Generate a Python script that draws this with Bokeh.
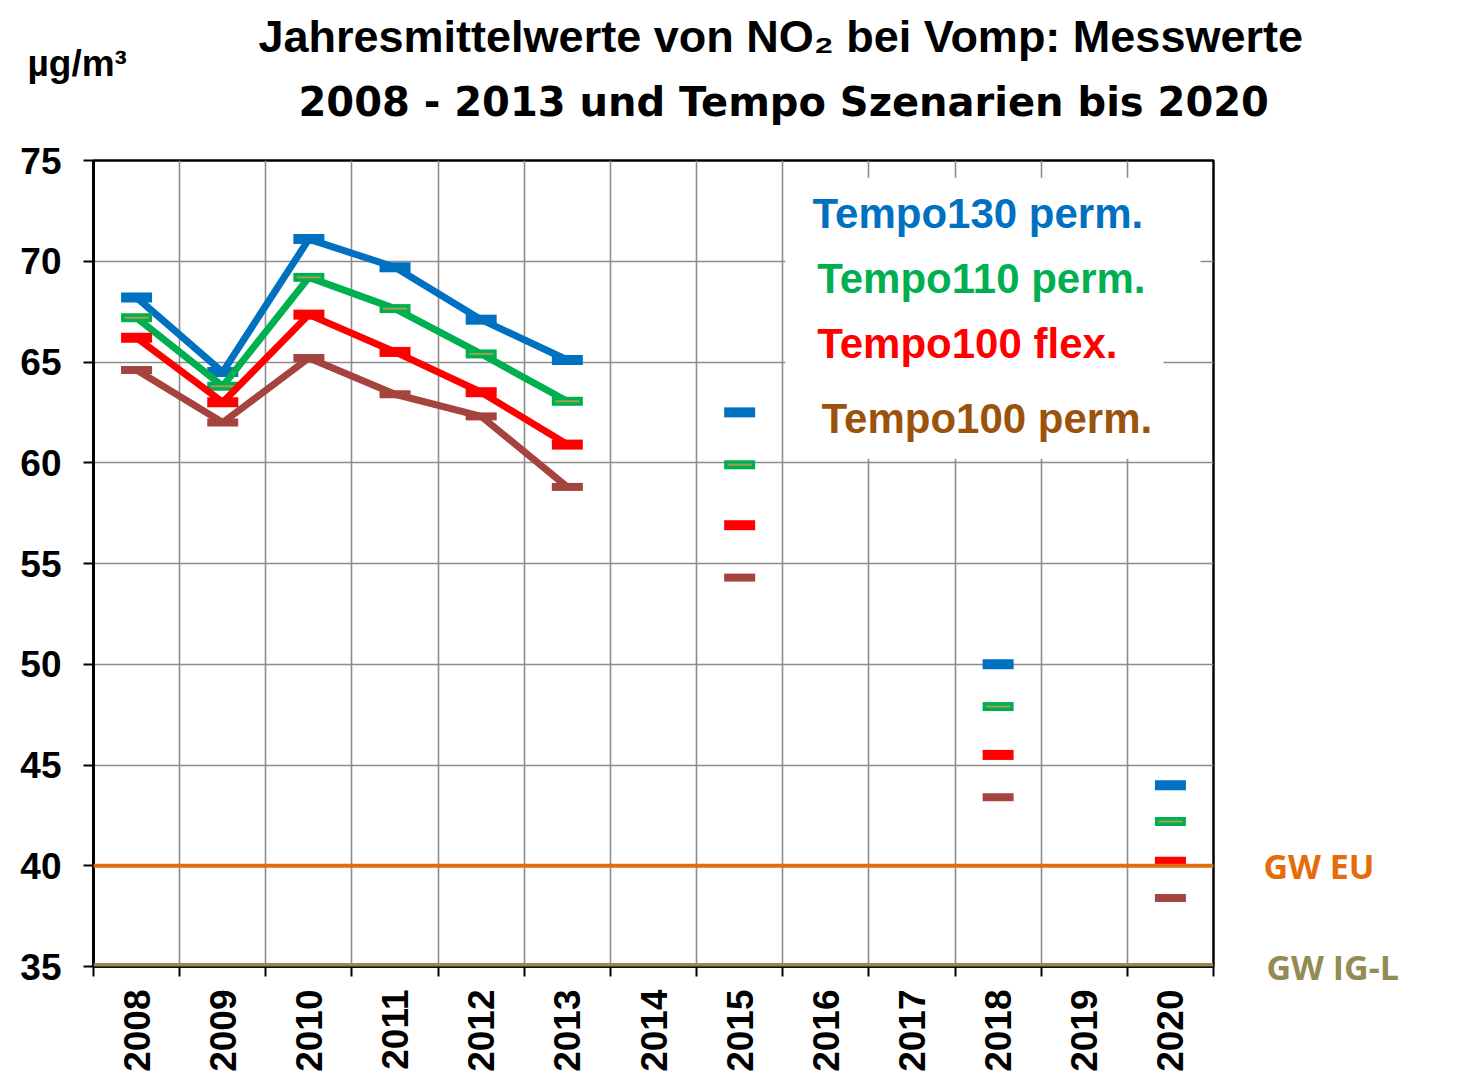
import math
from bokeh.plotting import figure
from bokeh.models import (Range1d, FixedTicker, Label, BoxAnnotation, Span,
                          Title, LinearAxis)
from bokeh.embed import file_html
from bokeh.resources import INLINE

# ---------------- data ----------------
years = ["2008", "2009", "2010", "2011", "2012", "2013", "2014",
         "2015", "2016", "2017", "2018", "2019", "2020"]
measured_years = ["2008", "2009", "2010", "2011", "2012", "2013"]
scenario_years = ["2015", "2018", "2020"]

series_names = ["Tempo130 perm.", "Tempo110 perm.", "Tempo100 flex.", "Tempo100 perm."]

t130_measured = [68.2, 64.5, 71.1, 69.7, 67.1, 65.1]
t130_scenario = [62.5, 50.0, 44.0]

t110_measured = [67.2, 63.8, 69.2, 67.65, 65.4, 63.05]
t110_scenario = [59.9, 47.9, 42.2]

t100f_measured = [66.2, 63.0, 67.35, 65.5, 63.5, 60.9]
t100f_scenario = [56.9, 45.5, 40.2]

t100p_measured = [64.6, 62.0, 65.2, 63.4, 62.3, 58.8]
t100p_scenario = [54.3, 43.4, 38.4]

y_ticks = [35, 40, 45, 50, 55, 60, 65, 70, 75]
gw_eu = 40
gw_igl = 35
gw_labels = ["GW EU", "GW IG-L"]

title_line1 = "Jahresmittelwerte von NO\u2082 bei Vomp: Messwerte"
title_line2 = "2008 - 2013 und Tempo Szenarien bis 2020"
unit_text = "\u00b5g/m\u00b3"

# ---------------- styling ----------------
C_BLUE = "#0070C0"
C_GREEN = "#00B050"
C_RED = "#FF0000"
C_BROWN = "#A5433F"
C_LEG_BROWN = "#9A520C"
C_ORANGE = "#E46C0A"
C_OLIVE = "#948A54"
GRID = "#8C8C8C"


def xpos(labels):
    return [years.index(lab) + 0.5 for lab in labels]


p = figure(width=1466, height=1080,
           x_range=Range1d(0, len(years)), y_range=Range1d(y_ticks[0], y_ticks[-1]),
           output_backend="svg", toolbar_location=None, title_location=None,
           min_border_left=93, min_border_right=253,
           min_border_top=160, min_border_bottom=114)
p.background_fill_color = "white"
p.border_fill_color = "white"
p.outline_line_color = "black"
p.outline_line_width = 2.5
p.outline_line_alpha = 1.0

# grids: vertical at category boundaries, horizontal at y ticks
p.xgrid.ticker = FixedTicker(ticks=list(range(1, len(years))))
p.ygrid.ticker = FixedTicker(ticks=y_ticks)
for g in (p.xgrid[0], p.ygrid[0]):
    g.grid_line_color = GRID
    g.grid_line_width = 1.6

# x axis
xa = p.xaxis[0]
xa.ticker = FixedTicker(ticks=[i + 0.5 for i in range(len(years))],
                        minor_ticks=list(range(len(years) + 1)))
xa.major_label_overrides = {i + 0.5: y for i, y in enumerate(years)}
xa.major_tick_line_color = None
xa.major_tick_out = 10
xa.major_tick_in = 0
xa.minor_tick_line_color = "black"
xa.minor_tick_line_width = 2
xa.minor_tick_out = 10
xa.minor_tick_in = 0
xa.axis_line_color = "black"
xa.axis_line_width = 2.5
xa.major_label_orientation = math.pi / 2
xa.major_label_standoff = 13
xa.major_label_text_font = "Liberation Sans"
xa.major_label_text_font_style = "bold"
xa.major_label_text_font_size = "37px"
xa.major_label_text_color = "black"

# y axis
ya = p.yaxis[0]
ya.ticker = FixedTicker(ticks=y_ticks)
ya.major_tick_line_color = "black"
ya.major_tick_line_width = 2
ya.major_tick_out = 10
ya.major_tick_in = 0
ya.minor_tick_line_color = None
ya.axis_line_color = "black"
ya.axis_line_width = 3
ya.major_label_standoff = 22
ya.major_label_text_font = "Liberation Sans"
ya.major_label_text_font_style = "bold"
ya.major_label_text_font_size = "37px"
ya.major_label_text_color = "black"

# right-hand labels of the limit lines (as label-only axes)
ax_eu = LinearAxis(ticker=FixedTicker(ticks=[gw_eu]),
                   major_label_overrides={gw_eu: gw_labels[0]})
ax_igl = LinearAxis(ticker=FixedTicker(ticks=[gw_igl]),
                    major_label_overrides={gw_igl: gw_labels[1]})
for ax, col, so in ((ax_eu, C_ORANGE, 50), (ax_igl, C_OLIVE, -111)):
    ax.axis_line_color = None
    ax.major_tick_line_color = None
    ax.minor_tick_line_color = None
    ax.major_tick_out = 0
    ax.major_tick_in = 0
    ax.minor_tick_out = 0
    ax.major_label_standoff = so
    ax.major_label_text_color = col
    ax.major_label_text_font = "Open Sans"
    ax.major_label_text_font_style = "bold"
    ax.major_label_text_font_size = "34px"
    p.add_layout(ax, "right")

# titles (stacked above the frame; first item is nearest to the frame)
above_items = [
    Title(text=" ", text_font_size="10px", standoff=21),
    Title(text=title_line2, align="left", offset=205, vertical_align="middle",
          text_font="DejaVu Sans", text_font_style="bold", text_font_size="40px",
          text_color="black", standoff=1),
    Title(text=unit_text, align="left", offset=-66, vertical_align="middle",
          text_font="Liberation Sans", text_font_style="bold", text_font_size="37px",
          text_color="black", standoff=-14),
    Title(text=title_line1, align="left", offset=165, vertical_align="middle",
          text_font="Liberation Sans", text_font_style="bold", text_font_size="45px",
          text_color="black", standoff=-28),
]
for t in above_items:
    p.add_layout(t, "above")

# white box behind the legend texts (covers the grid)
p.add_layout(BoxAnnotation(left=8.03, right=12.85, top=74.15, bottom=68.1,
                           fill_color="white", fill_alpha=1.0, line_color=None,
                           level="underlay"))
p.add_layout(BoxAnnotation(left=8.03, right=12.42, top=68.1, bottom=60.2,
                           fill_color="white", fill_alpha=1.0, line_color=None,
                           level="underlay"))

# series
series = [
    (t130_measured, t130_scenario, C_BLUE, 10, None),
    (t110_measured, t110_scenario, C_GREEN, 9, "#A0A050"),
    (t100f_measured, t100f_scenario, C_RED, 10, None),
    (t100p_measured, t100p_scenario, C_BROWN, 8, None),
]
for meas, scen, col, mh, inner in series:
    p.line(xpos(measured_years), meas, line_color=col, line_width=7,
           line_join="round")
    for xs, ys in ((xpos(measured_years), meas), (xpos(scenario_years), scen)):
        p.rect(xs, ys, width=31, height=mh, width_units="screen",
               height_units="screen", fill_color=col, line_color=None)
        if inner:
            p.rect(xs, ys, width=24, height=2, width_units="screen",
                   height_units="screen", fill_color=inner, line_color=None)

# limit lines
p.add_layout(Span(location=gw_eu, dimension="width", line_color=C_ORANGE,
                  line_width=4))
p.add_layout(Span(location=gw_igl, dimension="width", line_color=C_OLIVE,
                  line_width=7))

# legend texts
leg_cols = [C_BLUE, C_GREEN, C_RED, C_LEG_BROWN]
leg_pos = [(8.346, 72.37), (8.40, 69.14), (8.40, 65.92), (8.45, 62.20)]
for name, col, (lx, ly) in zip(series_names, leg_cols, leg_pos):
    p.add_layout(Label(x=lx, y=ly, text=name, text_color=col,
                       text_font="Liberation Sans", text_font_style="bold",
                       text_font_size="42px", text_baseline="middle",
                       text_align="left"))

open("out.html", "w").write(file_html(p, INLINE))
